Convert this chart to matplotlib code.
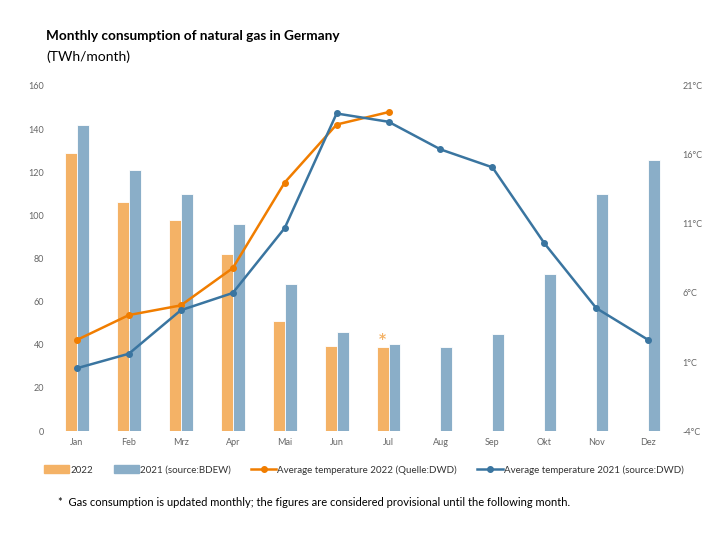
import matplotlib.pyplot as plt
import numpy as np
from matplotlib.patches import Patch
from matplotlib.lines import Line2D

plt.rcParams['font.family'] = ['Lato', 'DejaVu Sans']

months = ['Jan', 'Feb', 'Mrz', 'Apr', 'Mai', 'Jun', 'Jul', 'Aug', 'Sep', 'Okt', 'Nov', 'Dez']
gas_2022 = [129, 106, 98, 82, 51, 39.5, 39]
gas_2021 = [142, 121, 110, 96, 68, 46, 40.5, 39, 45, 73, 110, 125.5]
temp_2022 = [2.6, 4.4, 5.1, 7.8, 14.0, 18.2, 19.1]
temp_2021 = [0.55, 1.6, 4.75, 6.0, 10.7, 19.0, 18.4, 16.4, 15.1, 9.6, 4.9, 2.6]
left_ticks = [0, 20, 40, 60, 80, 100, 120, 140, 160]
right_ticks = [-4, 1, 6, 11, 16, 21]

c_bar22 = '#f4b266'
c_bar21 = '#8aaec8'
c_line22 = '#f07d00'
c_line21 = '#3a75a0'
c_tick = '#666666'

fig = plt.figure(figsize=(7.23, 5.47), dpi=100)
ax = fig.add_axes([0.0705, 0.212, 0.862, 0.631])
ax2 = ax.twinx()

x = np.arange(len(months))
w = 0.23
ax.bar(x[:len(gas_2022)] - w/2, gas_2022, w, color=c_bar22, edgecolor='white', linewidth=0.6)
ax.bar(x + w/2, gas_2021, w, color=c_bar21, edgecolor='white', linewidth=0.6)
ax.text(len(gas_2022) - 1 - w/2, gas_2022[-1] + 0.5, '*', color=c_bar22,
        ha='center', va='bottom', fontsize=10, fontweight='bold', family='DejaVu Sans')

ax2.plot(x[:len(temp_2022)], temp_2022, color=c_line22, lw=1.8, marker='o', ms=4)
ax2.plot(x, temp_2021, color=c_line21, lw=1.8, marker='o', ms=4)

ax.set_xlim(-0.5, 11.5)
ax.set_ylim(0, 160)
ax2.set_ylim(-4, 21)
ax.set_xticks(x)
ax.set_xticklabels(months)
ax.set_yticks(left_ticks)
ax2.set_yticks(right_ticks)
ax2.set_yticklabels([f'{t}°C' for t in right_ticks])

for a in (ax, ax2):
    for s in a.spines.values():
        s.set_visible(False)
    a.tick_params(length=0, labelsize=6.5, labelcolor=c_tick)
ax.tick_params(axis='y', pad=5)
ax.tick_params(axis='x', pad=5)
ax2.tick_params(axis='y', pad=6)

fig.text(0.0636, 0.934, 'Monthly consumption of natural gas in Germany',
         fontsize=9.8, fontweight='bold', va='center')
fig.text(0.0636, 0.897, '(TWh/month)', fontsize=10, va='center')

handles = [Patch(color=c_bar22), Patch(color=c_bar21),
           Line2D([], [], color=c_line22, lw=1.8, marker='o', ms=4),
           Line2D([], [], color=c_line21, lw=1.8, marker='o', ms=4)]
labels = ['2022', '2021 (source:BDEW)', 'Average temperature 2022 (Quelle:DWD)',
          'Average temperature 2021 (source:DWD)']
fig.legend(handles, labels, loc='center left', bbox_to_anchor=(0.061, 0.141), ncol=4,
           frameon=False, fontsize=7, handlelength=2.6, handleheight=0.9,
           handletextpad=0.1, columnspacing=2.1, labelcolor='#333333',
           borderpad=0, borderaxespad=0)

fig.text(0.08, 0.082, '*  Gas consumption is updated monthly; the figures are considered provisional until the following month.',
         fontsize=8, va='center')

fig.savefig('out.png', dpi=100)
